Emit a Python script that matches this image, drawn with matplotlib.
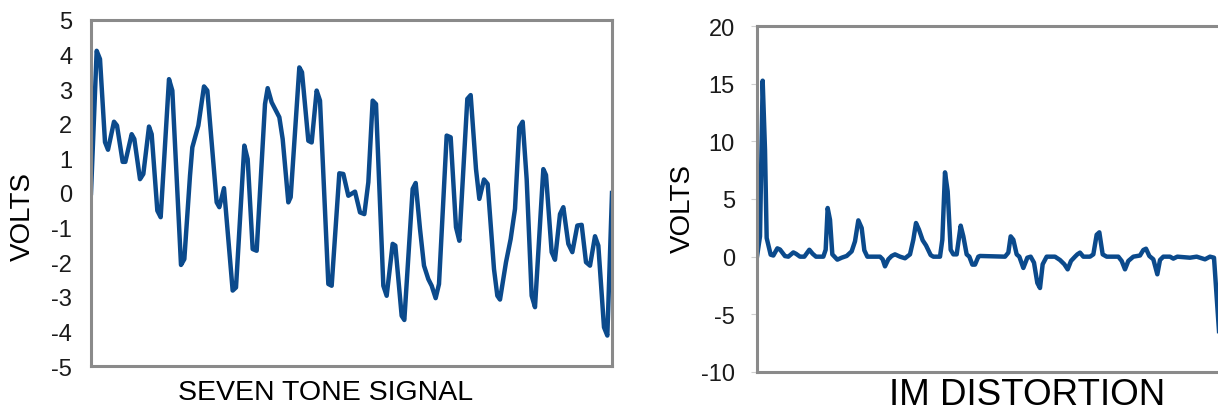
import matplotlib
matplotlib.use('Agg')
import matplotlib.pyplot as plt

plt.rcParams['font.family'] = ['Liberation Sans', 'DejaVu Sans']
plt.rcParams['axes.unicode_minus'] = False

# seven tone signal, sample position vs volts
tone_t = [0, 1.7, 2.7, 4.2, 5.1, 6.9, 7.8, 9.5, 10.3, 12.2, 13.0, 14.7, 15.7, 17.4, 18.2,
          19.9, 20.9, 23.4, 24.4, 27.0, 28.0, 29.7, 30.4, 32.2, 33.9, 34.9, 37.7, 38.5,
          39.9, 42.5, 43.5, 46.0, 47.0, 48.5, 49.7, 52.2, 53.0, 54.2, 56.5, 57.5, 59.2,
          59.9, 62.5, 63.3, 65.2, 66.2, 67.7, 68.7, 71.2, 72.2, 74.5, 75.7, 77.2, 79.2,
          80.7, 82.0, 83.2, 84.5, 85.5, 87.7, 88.7, 90.5, 91.3, 93.2, 94.0, 96.5, 97.4,
          98.7, 99.9, 101.2, 102.2, 103.4, 104.4, 106.7, 107.9, 109.5, 110.5, 112.9,
          113.9, 115.5, 116.5, 117.9, 119.0, 120.9, 121.9, 122.7, 124.5, 125.9, 127.2,
          128.5, 129.5, 130.7, 132.2, 133.2, 135.7, 136.5, 138.2, 139.2, 140.7, 141.7,
          143.2, 144.4, 145.9, 147.2, 148.5, 149.7, 151.2, 152.2, 153.9, 154.9, 156.3]
tone_v = [0, 4.11, 3.87, 1.47, 1.25, 2.06, 1.95, 0.9, 0.9, 1.7, 1.56, 0.4, 0.55, 1.92, 1.7,
          -0.51, -0.7, 3.29, 2.96, -2.08, -1.91, 0.5, 1.32, 1.95, 3.08, 2.96, -0.27, -0.41,
          0.14, -2.82, -2.73, 1.37, 0.98, -1.62, -1.67, 2.57, 3.03, 2.62, 2.19, 1.56, -0.27,
          -0.12, 3.63, 3.49, 1.51, 1.46, 2.96, 2.67, -2.63, -2.68, 0.57, 0.55, -0.08, 0.04,
          -0.56, -0.61, 0.31, 2.67, 2.57, -2.68, -2.97, -1.47, -1.52, -3.55, -3.67, 0.12, 0.29,
          -1.04, -2.1, -2.49, -2.68, -3.04, -2.63, 1.66, 1.61, -0.99, -1.38, 2.72,
          2.83, 0.69, -0.17, 0.39, 0.26, -2.2, -2.97, -3.08, -2.0, -1.33, -0.46,
          1.9, 2.06, 0.4, -2.97, -3.3, 0.69, 0.52, -1.71, -1.93, -0.61, -0.41,
          -1.47, -1.71, -0.94, -0.92, -2.0, -2.1, -1.25, -1.52, -3.88, -4.12, 0]

# IM distortion
im_t = [0, 0.9, 1.7, 2.4, 2.9, 4.1, 4.9, 6.1, 6.9, 8.4, 9.4, 10.9, 11.7, 12.9, 14.2, 15.7,
        16.7, 17.7, 19.9, 20.6, 21.2, 21.9, 22.6, 24.1, 25.4, 26.9, 28.4, 29.4, 30.4, 31.4,
        32.2, 33.1, 36.9, 37.7, 38.4, 39.4, 40.4, 41.4, 42.9, 44.4, 45.9, 46.9, 47.7, 48.6,
        49.7, 50.7, 52.1, 52.9, 54.9, 55.6, 56.4, 57.2, 58.1, 58.9, 59.9, 61.1, 61.9, 62.9,
        63.7, 64.6, 65.4, 66.4, 66.9, 74.4, 75.4, 76.1, 76.9, 77.9, 78.7, 79.9, 81.1, 82.1,
        83.1, 84.1, 84.9, 85.7, 86.9, 89.4, 90.9, 92.2, 93.2, 94.2, 95.4, 96.1, 96.9, 97.9,
        99.9, 100.9, 101.9, 102.7, 103.7, 104.9, 108.4, 109.4, 110.4, 111.4, 112.9, 114.9,
        115.9, 116.7, 117.7, 118.9, 120.1, 120.9, 121.9, 123.9, 124.9, 126.1, 129.9, 131.9,
        134.4, 135.9, 137.1, 139.2]
im_v = [0, 1.76, 15.26, 9.28, 1.62, 0.17, 0.1, 0.72, 0.62, 0.05, 0, 0.37, 0.25, 0, 0, 0.6,
        0.25, 0, 0, 0.6, 4.22, 3.2, 0.2, -0.26, -0.09, 0.06, 0.46, 1.33, 3.15, 2.49,
        0.55, 0, 0, -0.23, -0.84, -0.23, 0.06, 0.2, 0, -0.14, 0.2, 1.47, 2.92, 2.34,
        1.42, 0.98, 0.14, 0, 0, 1.47, 7.31, 5.66, 0.6, 0.2, 0.2, 2.69, 1.76, 0.2,
        0, -0.69, -0.69, 0, 0.06, 0, 0.35, 1.76, 1.47, 0.2, 0, -0.98, -0.09, 0,
        -0.52, -2.28, -2.72, -0.66, 0, 0, -0.29, -0.66, -1.1, -0.37, 0, 0.2, 0.35, 0,
        0, 0.2, 1.9, 2.11, 0.2, 0, 0, -0.37, -1.1, -0.37, 0, 0.1,
        0.58, 0.69, 0.06, -0.23, -1.53, -0.29, 0, 0, -0.17, 0, -0.09, 0,
        -0.23, 0, -0.09, -9]

W, H = 1218, 414
line_col = '#0b4a8c'
spine_col = '#8a8a8a'

fig = plt.figure(figsize=(W / 100, H / 100), dpi=100)
ax1 = fig.add_axes([91 / W, 1 - 367 / H, 521 / W, 346 / H])
ax2 = fig.add_axes([757 / W, 1 - 373 / H, 464 / W, 346 / H])

ax1.plot(tone_t, tone_v, color=line_col, lw=3.2, solid_joinstyle='round')
ax1.set_xlim(0, 156.3)
ax1.set_ylim(-5, 5)
ax1.set_yticks(range(-5, 6))
ax1.tick_params(axis='y', length=0, pad=13.5, labelsize=17, labelcolor='#1a1a1a')
ax1.set_xticks([])
ax1.set_ylabel('VOLTS', fontsize=20, va='center')
ax1.yaxis.set_label_coords(-0.13, 0.436)
ax1.set_xlabel('SEVEN TONE SIGNAL', fontsize=20.5, va='center')
ax1.xaxis.set_label_coords(0.451, -0.075)

ax2.plot(im_t, im_v, color=line_col, lw=3.2, solid_joinstyle='round')
ax2.set_xlim(0, 139.2)
ax2.set_ylim(-10, 20)
ax2.set_yticks(range(-10, 21, 5))
ax2.tick_params(axis='y', length=4.5, color='#d0d0d0', pad=11.5, labelsize=17, labelcolor='#1a1a1a')
ax2.set_xticks([])
ax2.set_ylabel('VOLTS', fontsize=20, va='center')
ax2.yaxis.set_label_coords(-0.159, 0.475)
ax2.set_xlabel('IM DISTORTION', fontsize=26.5, va='center')
ax2.xaxis.set_label_coords(0.582, -0.064)

for ax in (ax1, ax2):
    for s in ax.spines.values():
        s.set_color(spine_col)
        s.set_linewidth(2.2)

plt.savefig('out.png', dpi=100)
